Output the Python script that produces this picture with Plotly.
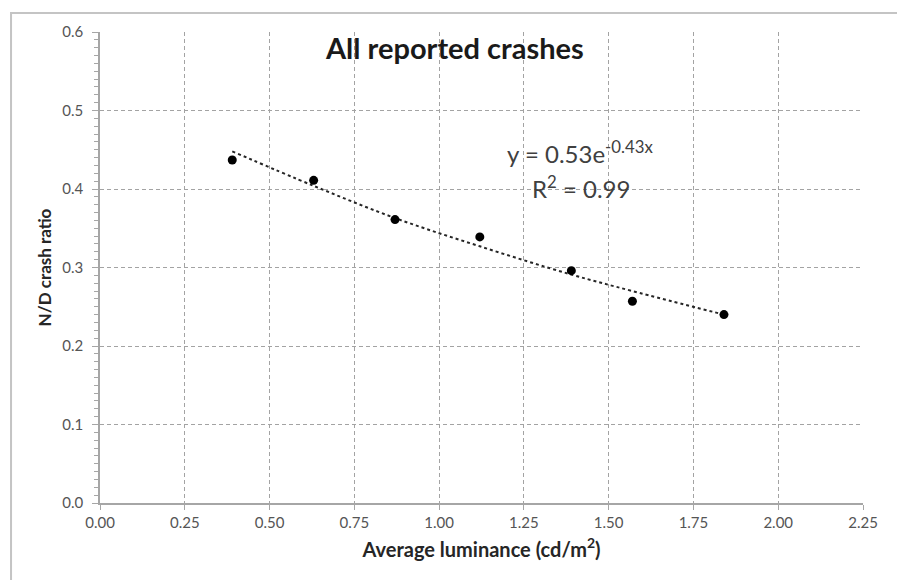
import plotly.graph_objects as go

luminance = [0.39, 0.63, 0.87, 1.12, 1.39, 1.57, 1.84]
nd_ratio = [0.437, 0.411, 0.361, 0.339, 0.296, 0.257, 0.240]

# exponential trendline, read at the same x positions
trend_y = [0.448, 0.404, 0.363, 0.327, 0.291, 0.270, 0.240]

x_ticks = [0.0, 0.25, 0.5, 0.75, 1.0, 1.25, 1.5, 1.75, 2.0, 2.25]
y_ticks = [0.0, 0.1, 0.2, 0.3, 0.4, 0.5, 0.6]

FONT = "Lato, Open Sans, Arial, sans-serif"
GRID = "#a3a3a3"
AXIS = "#a6a6a6"
TICK_TEXT = "#555555"

fig = go.Figure()

fig.add_trace(
    go.Scatter(
        x=luminance,
        y=trend_y,
        mode="lines",
        line={"color": "#262626", "width": 2, "dash": "dot", "shape": "spline"},
        hoverinfo="skip",
    )
)
fig.add_trace(
    go.Scatter(
        x=luminance,
        y=nd_ratio,
        mode="markers",
        marker={"color": "#000000", "size": 9},
    )
)

# page has an 8px body margin, so the figure is a bit smaller than the window
fig.update_layout(
    width=897,
    height=572,
    showlegend=False,
    paper_bgcolor="white",
    plot_bgcolor="white",
    margin={"l": 92, "r": 42, "t": 24, "b": 77},
    font={"family": FONT, "color": TICK_TEXT},
)

fig.update_xaxes(
    range=[0, 2.25],
    tickvals=x_ticks,
    ticktext=[f"{v:.2f}" for v in x_ticks],
    showgrid=True,
    gridcolor=GRID,
    gridwidth=1.3,
    griddash="4px,3px",
    showline=True,
    linecolor=AXIS,
    linewidth=1.5,
    ticks="outside",
    ticklen=5,
    tickcolor=AXIS,
    tickfont={"size": 15, "color": TICK_TEXT},
    zeroline=False,
    title={
        "text": "<b>Average luminance (cd/m<sup>2</sup>)</b>",
        "font": {"size": 20, "color": "#262626"},
        "standoff": 13,
    },
)
fig.update_yaxes(
    range=[0, 0.6],
    tickvals=y_ticks,
    ticktext=[f"{v:.1f}" for v in y_ticks],
    showgrid=True,
    gridcolor=GRID,
    gridwidth=1.3,
    griddash="4px,3px",
    showline=True,
    linecolor=AXIS,
    linewidth=1.5,
    ticks="outside",
    ticklen=6,
    tickcolor=AXIS,
    tickfont={"size": 15, "color": TICK_TEXT},
    ticklabelstandoff=6,
    minor={"dtick": 0.01, "ticks": "outside", "ticklen": 4, "tickcolor": AXIS, "showgrid": False},
    zeroline=False,
    title={
        "text": "<b>N/D crash ratio</b>",
        "font": {"size": 17, "color": "#262626"},
        "standoff": 6,
    },
)

# chart border
fig.add_shape(
    type="rect",
    xref="paper",
    yref="paper",
    x0=-0.1166,
    x1=1.0472,
    y0=-0.2,
    y1=1.0403,
    line={"color": "#c4c4c4", "width": 2},
    layer="below",
)

fig.add_annotation(
    text="<b>All reported crashes</b>",
    xref="paper",
    yref="paper",
    x=0.465,
    y=0.968,
    yanchor="middle",
    showarrow=False,
    font={"size": 29, "color": "#1a1a1a"},
)
fig.add_annotation(
    text="y = 0.53e<sup>-0.43x</sup>",
    xref="paper",
    yref="paper",
    x=0.531,
    y=0.707,
    xanchor="left",
    yanchor="bottom",
    showarrow=False,
    font={"size": 24, "color": "#404040"},
)
fig.add_annotation(
    text="R<sup>2</sup> = 0.99",
    xref="paper",
    yref="paper",
    x=0.5636,
    y=0.671,
    xanchor="left",
    yanchor="middle",
    showarrow=False,
    font={"size": 24, "color": "#404040"},
)

fig.write_html("out.html")
